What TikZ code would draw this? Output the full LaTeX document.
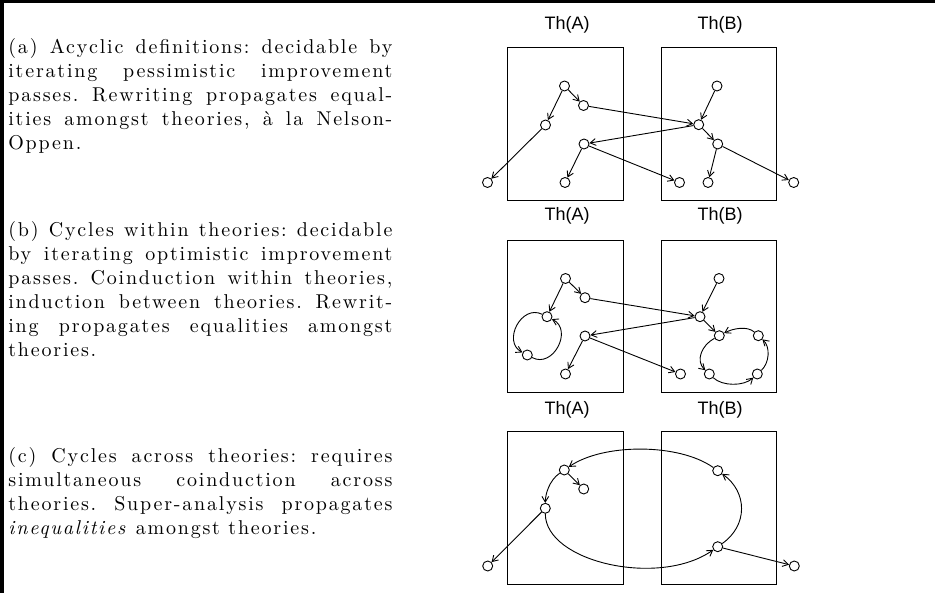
\documentclass[tikz,border=0pt]{standalone}
\usepackage{fontspec}
\setmainfont{Latin Modern Roman}[LetterSpace=9]
\newfontfamily\thfont{Liberation Sans}
\usetikzlibrary{arrows.meta}
\begin{document}
\frenchspacing
\begin{tikzpicture}[x=0.5pt,y=0.5pt,
  nd/.style={circle,draw,minimum size=5pt,inner sep=0pt,line width=0.45pt},
  ar/.style={-{Straight Barb[length=2.8pt,width=3.4pt]},line width=0.45pt},
  thbox/.style={draw,line width=0.5pt},
  thlab/.style={font=\thfont\fontsize{9}{10}\selectfont},
  desc/.style={anchor=base west,inner sep=0pt}]
\useasboundingbox (0,0) rectangle (935,593);
\draw[line width=1.75pt] (0,591.25) -- (935,591.25);
\draw[line width=2pt] (2,0) -- (2,593);

% ---------- descriptions ----------
\node[desc] (ta) at (8,539) {\parbox[t]{192pt}{%
\makebox[192pt][s]{(a) Acyclic definitions: decidable by}\\
\makebox[192pt][s]{iterating pessimistic improvement}\\
\makebox[192pt][s]{passes. Rewriting propagates equal-}\\
\makebox[192pt][s]{ities amongst theories, à la Nelson-}\\
Oppen.}};
\node[desc] (tb) at (8,356) {\parbox[t]{192pt}{%
\makebox[192pt][s]{(b) Cycles within theories: decidable}\\
\makebox[192pt][s]{by iterating optimistic improvement}\\
\makebox[192pt][s]{passes. Coinduction within theories,}\\
\makebox[192pt][s]{induction between theories. Rewrit-}\\
\makebox[192pt][s]{ing propagates equalities amongst}\\
theories.}};
\node[desc] (tc) at (8,130) {\parbox[t]{192pt}{%
\makebox[192pt][s]{(c) Cycles across theories: requires}\\
\makebox[192pt][s]{simultaneous coinduction across}\\
\makebox[192pt][s]{theories. Super-analysis propagates}\\
\emph{inequalities} amongst theories.}};

% ---------- panel (a) ----------
\draw[thbox] (507,392) rectangle (623,545);
\draw[thbox] (661,392) rectangle (776,545);
\node[thlab] (la1) at (567,568) {Th(A)};
\node[thlab] (lb1) at (720,568) {Th(B)};
\node[nd] (A1) at (564.5,507) {};
\node[nd] (A2) at (583.5,487.5) {};
\node[nd] (A3) at (545.5,468) {};
\node[nd] (A4) at (584,449) {};
\node[nd] (A5) at (487.5,410.5) {};
\node[nd] (A6) at (565,410.5) {};
\node[nd] (A7) at (679.5,410.5) {};
\node[nd] (B1) at (717,507) {};
\node[nd] (B2) at (698.7,468.3) {};
\node[nd] (B3) at (717.7,449) {};
\node[nd] (B4) at (708,410.5) {};
\node[nd] (B5) at (793.7,410.5) {};
\draw[ar] (A1) -- (A2);
\draw[ar] (A1) -- (A3);
\draw[ar] (A3) -- (A5);
\draw[ar] (A2) -- (B2);
\draw[ar] (B1) -- (B2);
\draw[ar] (B2) -- (B3);
\draw[ar] (B2) -- (A4);
\draw[ar] (A4) -- (A6);
\draw[ar] (A4) -- (A7);
\draw[ar] (B3) -- (B4);
\draw[ar] (B3) -- (B5);

% ---------- panel (b) ----------
\draw[thbox] (507,200) rectangle (623,352);
\draw[thbox] (661,200) rectangle (776,352);
\node[thlab] (la2) at (567,377) {Th(A)};
\node[thlab] (lb2) at (720,377) {Th(B)};
\node[nd] (a1) at (565.5,314.5) {};
\node[nd] (a2) at (585,295.3) {};
\node[nd] (a3) at (547,276.3) {};
\node[nd] (a8) at (527.3,238) {};
\node[nd] (a4) at (585,257) {};
\node[nd] (a6) at (565.5,219) {};
\node[nd] (a7) at (680.5,219) {};
\node[nd] (b1) at (719,314.5) {};
\node[nd] (b2) at (700,276.3) {};
\node[nd] (b3) at (719.3,257.3) {};
\node[nd] (b6) at (758.3,257.3) {};
\node[nd] (b7) at (757.3,219) {};
\node[nd] (b8) at (709.3,219) {};
\draw[ar] (a1) -- (a2);
\draw[ar] (a1) -- (a3);
\draw[ar] (a2) -- (b2);
\draw[ar] (b1) -- (b2);
\draw[ar] (b2) -- (b3);
\draw[ar] (b2) -- (a4);
\draw[ar] (a4) -- (a6);
\draw[ar] (a4) -- (a7);
\draw[ar] (a3) .. controls (521.4,289.1) and (502.1,251.4) .. (a8);
\draw[ar] (a8) .. controls (553.2,224.2) and (573.2,263.2) .. (a3);
\draw[ar] (b3) .. controls (701.5,247.8) and (695.3,232.2) .. (b8);
\draw[ar] (b8) .. controls (722.5,206.5) and (743.8,206.8) .. (b7);
\draw[ar] (b7) .. controls (769.5,230) and (770.5,246.3) .. (b6);
\draw[ar] (b6) .. controls (747.2,267.3) and (733.0,264.6) .. (b3);

% ---------- panel (c) ----------
\draw[thbox] (507,8) rectangle (623,161);
\draw[thbox] (661,8) rectangle (776,161);
\node[thlab] (la3) at (567,183) {Th(A)};
\node[thlab] (lb3) at (720,183) {Th(B)};
\node[nd] (c1) at (564.3,123) {};
\node[nd] (c2) at (583.7,104) {};
\node[nd] (c3) at (545.3,84.7) {};
\node[nd] (c4) at (487.7,27) {};
\node[nd] (c5) at (717.7,122.3) {};
\node[nd] (c6) at (717.7,46.3) {};
\node[nd] (c7) at (794.3,27) {};
\draw[ar] (c1) -- (c2);
\draw[ar] (c3) -- (c4);
\draw[ar] (c6) -- (c7);
\draw[ar] (c5) .. controls (679.3,149.7) and (603.7,150) .. (c1);
\draw[ar] (c1) .. controls (549.1,112.6) and (545.3,98.5) .. (c3);
\draw[ar] (c3) .. controls (545.3,31.0) and (659.2,5.2) .. (c6);
\draw[ar] (c6) .. controls (748,67.5) and (747.7,100.9) .. (c5);
\end{tikzpicture}
\end{document}
